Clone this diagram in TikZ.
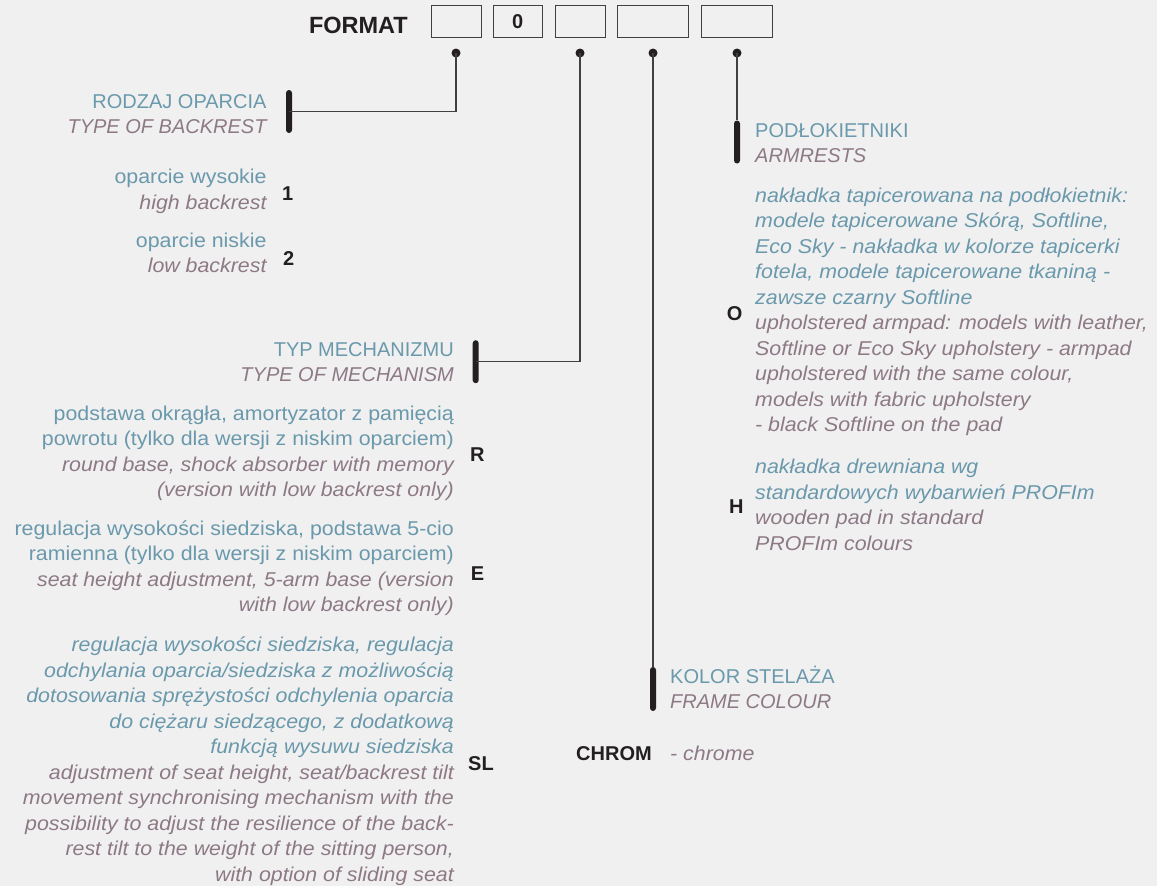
\documentclass[tikz,border=0pt]{standalone}
\usepackage{fontspec}
\setmainfont{Liberation Sans}
\newfontfamily\bodyfont{Liberation Sans}[FakeStretch=1.068]
\definecolor{pl}{HTML}{6A99AC}
\definecolor{en}{HTML}{8D7985}
\definecolor{bg}{HTML}{F0F0F0}
\definecolor{ink}{HTML}{231F20}
\definecolor{wire}{HTML}{404040}
\newcommand{\plu}[1]{\textcolor{pl}{#1}}
\newcommand{\pli}[1]{\textcolor{pl}{\itshape #1}}
\newcommand{\eni}[1]{\textcolor{en}{\itshape #1}}
\tikzset{
  hdr/.style={inner sep=0pt, font=\fontsize{20}{25}\selectfont},
  txt/.style={inner sep=0pt, font=\bodyfont\fontsize{20}{25.5}\selectfont},
  lhead/.style={hdr, align=right, anchor=base east},
  rhead/.style={hdr, align=left, anchor=base west},
  lblock/.style={txt, align=right, anchor=base east},
  rblock/.style={txt, align=left, anchor=base west},
  code/.style={inner sep=0pt, anchor=base west, text=ink, font=\fontsize{20}{24}\selectfont\bfseries},
  fbox/.style={draw=wire, line width=1pt, minimum height=31.7pt, inner sep=0pt},
  dot/.style={circle, fill=ink, minimum size=9pt, inner sep=0pt},
  bar/.style={fill=ink, rounded corners=3pt, minimum width=6pt, inner sep=0pt},
  wireline/.style={draw=wire, line width=1.5pt}
}
\begin{document}
\begin{tikzpicture}[x=1pt,y=-1pt]
\useasboundingbox[fill=bg] (0,0) rectangle (1157,886);
% header
\node[inner sep=0pt, anchor=base east, text=ink, font=\fontsize{23.5}{27}\selectfont\bfseries] (fmt) at (408,33) {FORMAT};
\node[fbox, minimum width=49.7pt] (f1) at (456.8,21.8) {};
\node[fbox, minimum width=49.3pt, text=ink, font=\fontsize{20}{24}\selectfont\bfseries] (f2) at (517.7,21.8) {0};
\node[fbox, minimum width=49.7pt] (f3) at (580.2,21.8) {};
\node[fbox, minimum width=70.6pt] (f4) at (653,21.8) {};
\node[fbox, minimum width=70.7pt] (f5) at (736.7,21.8) {};
% dots
\node[dot] (d1) at (456,53) {};
\node[dot] (d2) at (580,53) {};
\node[dot] (d3) at (653,53) {};
\node[dot] (d4) at (737,53) {};
% bars
\node[bar, minimum height=43pt] (b1) at (289,111.5) {};
\node[bar, minimum height=43pt] (b2) at (475.7,361.7) {};
\node[bar, minimum height=44pt] (b3) at (653,689) {};
\node[bar, minimum height=43pt] (b4) at (737,142) {};
% connectors
\draw[wireline] (d1.center) |- (b1.center);
\draw[wireline] (d2.center) |- (b2.center);
\draw[wireline] (d3.center) -- (b3.north);
\draw[wireline] (d4.center) -- (b4.north);
% backrest
\node[lhead] (rod) at (266.7,133.3) {\plu{RODZAJ OPARCIA}\\\eni{TYPE OF BACKREST}};
\node[lblock] (t1) at (266.7,209.3) {\plu{oparcie wysokie}\\\eni{high backrest}};
\node[code] (c1) at (282,200) {1};
\node[lblock] (t2) at (266.7,272.7) {\plu{oparcie niskie}\\\eni{low backrest}};
\node[code] (c2) at (283,265) {2};
% mechanism
\node[lhead] (mech) at (454,381.7) {\plu{TYP MECHANIZMU}\\\eni{TYPE OF MECHANISM}};
\node[lblock] (tR) at (454,496.7) {\plu{podstawa okrągła, amortyzator z pamięcią}\\\plu{powrotu (tylko dla wersji z niskim oparciem)}\\\eni{round base, shock absorber with memory}\\\eni{(version with low backrest only)}};
\node[code] (cR) at (470,461) {R};
\node[lblock] (tE) at (454,611.7) {\plu{regulacja wysokości siedziska, podstawa 5-cio}\\\plu{ramienna (tylko dla wersji z niskim oparciem)}\\\eni{seat height adjustment, 5-arm base (version}\\\eni{with low backrest only)}};
\node[code] (cE) at (470.7,580) {E};
\node[lblock] (tSL) at (454,881) {\pli{regulacja wysokości siedziska, regulacja}\\\pli{odchylania oparcia/siedziska z możliwością}\\\pli{dotosowania sprężystości odchylenia oparcia}\\\pli{do ciężaru siedzącego, z dodatkową}\\\pli{funkcją wysuwu siedziska}\\\eni{adjustment of seat height, seat/backrest tilt}\\\eni{movement synchronising mechanism with the}\\\eni{possibility to adjust the resilience of the back-}\\\eni{rest tilt to the weight of the sitting person,}\\\eni{with option of sliding seat}};
\node[code] (cSL) at (468,770) {SL};
% armrests
\node[rhead] (arm) at (755,162.7) {\plu{PODŁOKIETNIKI}\\\eni{ARMRESTS}};
\node[rblock] (tO) at (755,431.7) {\pli{nakładka tapicerowana na podłokietnik:}\\\pli{modele tapicerowane Skórą, Softline,}\\\pli{Eco Sky - nakładka w kolorze tapicerki}\\\pli{fotela, modele tapicerowane tkaniną -}\\\pli{zawsze czarny Softline}\\\eni{upholstered armpad: models with leather,}\\\eni{Softline or Eco Sky upholstery - armpad}\\\eni{upholstered with the same colour,}\\\eni{models with fabric upholstery}\\\eni{- black Softline on the pad}};
\node[code] (cO) at (726.7,320.5) {O};
\node[rblock] (tH) at (755,550) {\pli{nakładka drewniana wg}\\\pli{standardowych wybarwień PROFIm}\\\eni{wooden pad in standard}\\\eni{PROFIm colours}};
\node[code] (cH) at (729,513) {H};
% frame colour
\node[rhead] (kol) at (670,708.3) {\plu{KOLOR STELAŻA}\\\eni{FRAME COLOUR}};
\node[code] (cCH) at (576,760.5) {CHROM};
\node[rblock] (tCH) at (670,760.5) {\eni{- chrome}};
\end{tikzpicture}
\end{document}
